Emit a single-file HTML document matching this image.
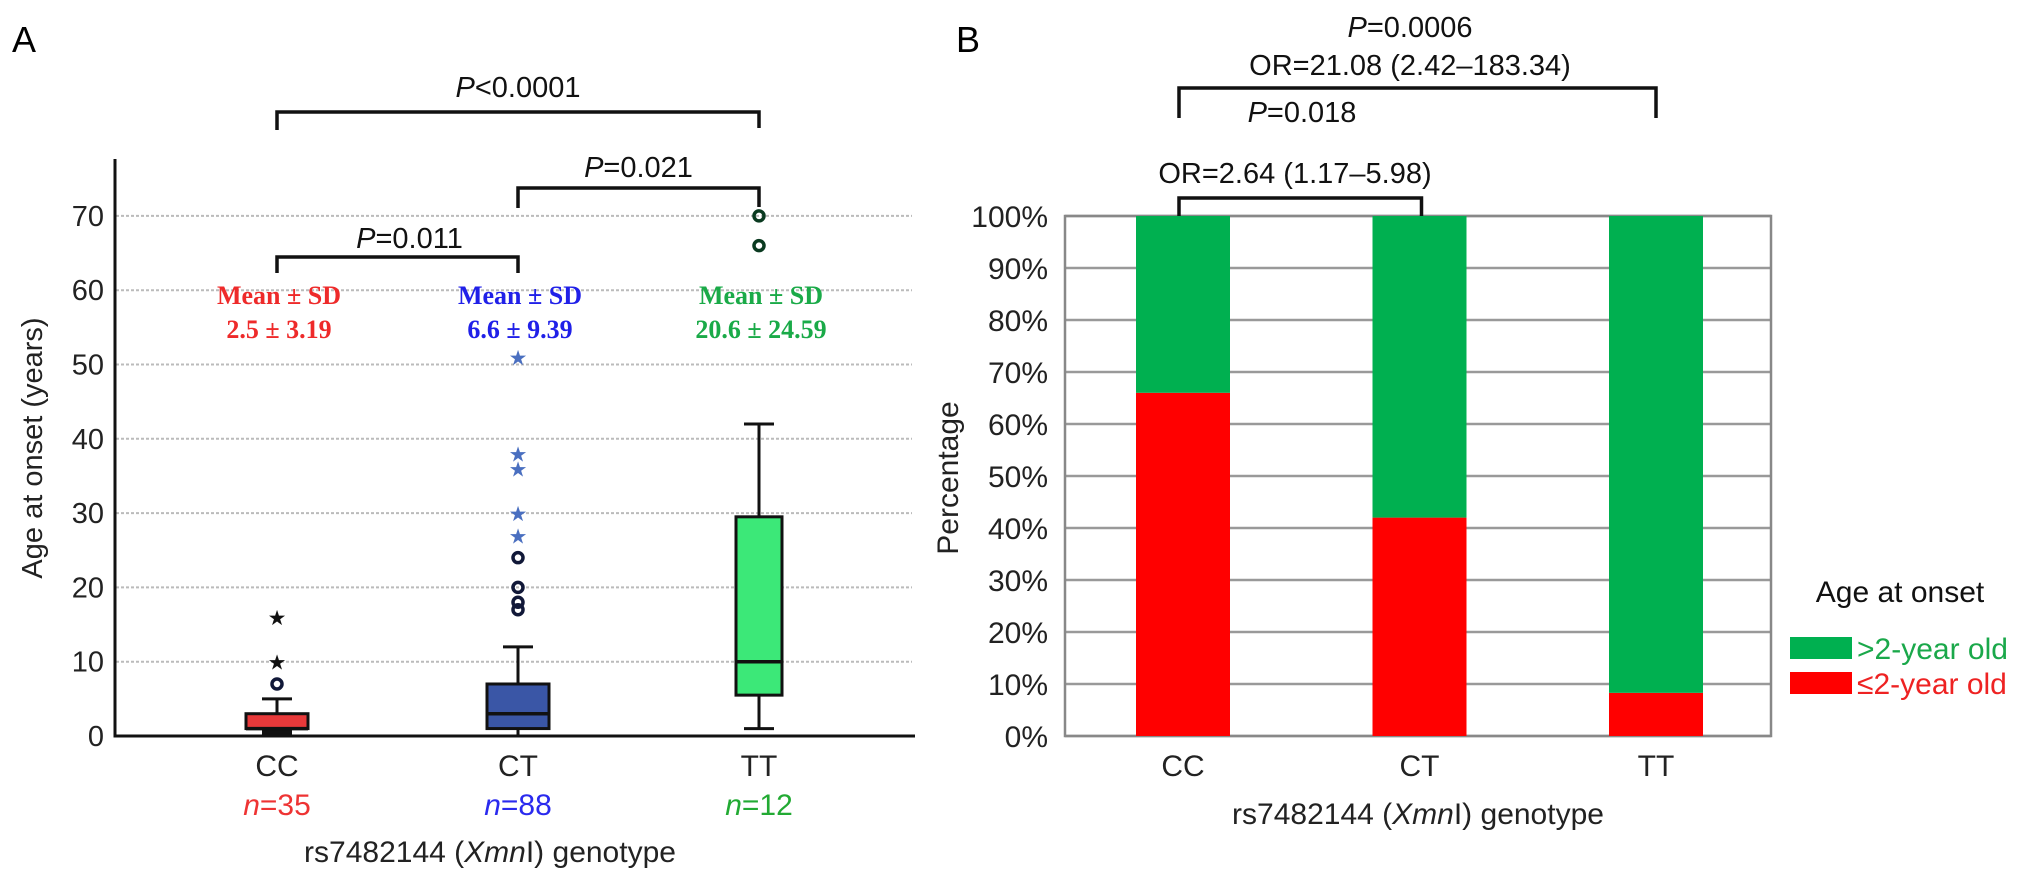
<!DOCTYPE html>
<html><head><meta charset="utf-8"><style>
html,body{margin:0;padding:0;background:#fff;}
svg{display:block;font-family:"Liberation Sans",sans-serif;}
.mean{font-family:"Liberation Serif",serif;font-weight:bold;font-size:26px;}
</style></head><body>
<svg id="fig" width="2032" height="879" viewBox="0 0 2032 879" xmlns="http://www.w3.org/2000/svg">
<g id="A"></g>
<g id="B"></g>
</svg>
<script>
// ---- Panel A data ----
const catsA = ['CC','CT','TT'];
const minsA = [0, 0, 1];
const q1A = [1, 1, 5.5];
const medA = [1, 3, 10];
const q3A = [3, 7, 29.5];
const maxA = [5, 12, 42];
const circlesA = [[7],[17,18,20,24],[66,70]];
const starsA = [[10,16],[27,30,36,38,51],[]];
const nA = [35, 88, 12];
const meansA = ['2.5 ± 3.19','6.6 ± 9.39','20.6 ± 24.59'];
const ticksA = [0,10,20,30,40,50,60,70];
// ---- Panel B data ----
const catsB = ['CC','CT','TT'];
const lowPct = [66, 42, 8.3];
const highPct = [34, 58, 91.7];
const ticksB = [0,10,20,30,40,50,60,70,80,90,100];

const NS='http://www.w3.org/2000/svg';
function mk(parent, tag, attrs, text){
  const e=document.createElementNS(NS,tag);
  for(const k in attrs) e.setAttribute(k,attrs[k]);
  if(text!==undefined) e.textContent=text;
  parent.appendChild(e); return e;
}
const colA=['#e8393a','#3a56a6','#3ce878'];
const txtCol=['#ee2a2a','#2020e8','#1aaa48'];
const nCol=['#ee3333','#2a2aee','#22aa33'];
const yA=v=>736-v*7.43;
const xA=i=>277+i*241;
const A=document.getElementById('A');

let t=mk(A,'text',{x:12,y:52,'font-size':36});t.textContent='A';


ticksA.forEach(v=>{
  if(v>0){const g=mk(A,'line',{x1:116,x2:912,y1:yA(v),y2:yA(v),stroke:'#bbb','stroke-width':2,'stroke-dasharray':'3,2'});
  
  }
  const l=mk(A,'text',{x:104,y:yA(v)+10,'font-size':29,'text-anchor':'end',fill:'#222'},String(v));
  
  
});
let ax=mk(A,'path',{d:'M115 159 V736 H915',stroke:'#111','stroke-width':3,fill:'none'});


let yt=mk(A,'text',{x:0,y:0,'font-size':29,'text-anchor':'middle',transform:'translate(42,448) rotate(-90)',fill:'#222'},'Age at onset (years)');



catsA.forEach((c,i)=>{
  const x=xA(i), w=(i===2?46:62), cw=30;
  const g=mk(A,'g',{});
  
  
  mk(g,'line',{x1:x,x2:x,y1:yA(maxA[i]),y2:yA(q3A[i]),stroke:'#111','stroke-width':3});
  mk(g,'line',{x1:x,x2:x,y1:yA(minsA[i]),y2:yA(q1A[i]),stroke:'#111','stroke-width':3});
  mk(g,'line',{x1:x-cw/2,x2:x+cw/2,y1:yA(maxA[i]),y2:yA(maxA[i]),stroke:'#111','stroke-width':3});
  mk(g,'line',{x1:x-cw/2,x2:x+cw/2,y1:yA(minsA[i]),y2:yA(minsA[i]),stroke:'#111','stroke-width':3});
  if(q1A[i]-minsA[i]<=1 && medA[i]===q1A[i]){
    mk(g,'rect',{x:x-cw/2,y:yA(q1A[i]),width:cw,height:yA(minsA[i])-yA(q1A[i]),fill:'#111'});
  }
  mk(g,'rect',{x:x-w/2,y:yA(q3A[i]),width:w,height:yA(q1A[i])-yA(q3A[i]),fill:colA[i],stroke:'#111','stroke-width':3});
  mk(g,'line',{x1:x-w/2,x2:x+w/2,y1:yA(medA[i]),y2:yA(medA[i]),stroke:'#111','stroke-width':3.5});
  circlesA[i].forEach(v=>{
    const o=mk(A,'circle',{cx:x,cy:yA(v),r:5,fill:'none',stroke:i===2?'#0a3a20':'#111838','stroke-width':3.5});
    
    
  });
  starsA[i].forEach(v=>{
    const s=mk(A,'text',{x:x,y:yA(v)+8,'font-size':21,'text-anchor':'middle',fill:i===0?'#111':'#4a6fc0'},'★');
    
    
  });
  const m1=mk(A,'text',{x:x+2,y:304,'text-anchor':'middle',fill:txtCol[i],class:'mean'},'Mean ± SD');
  
  
  const m2=mk(A,'text',{x:x+2,y:338,'text-anchor':'middle',fill:txtCol[i],class:'mean'},meansA[i]);
  
  
  const cl=mk(A,'text',{x:x,y:776,'font-size':30,'text-anchor':'middle',fill:'#222'},c);
  
  
  const nl=mk(A,'text',{x:x,y:815,'font-size':30,'text-anchor':'middle',fill:nCol[i]});
  nl.innerHTML='<tspan font-style="italic">n</tspan>='+nA[i];
  
  
});
let xt=mk(A,'text',{x:490,y:862,'font-size':30,'text-anchor':'middle',fill:'#222'});
xt.innerHTML='rs7482144 (<tspan font-style="italic">Xmn</tspan>I) genotype';



function bracket(P,x1,x2,top,l1,l2,name){
  const b=mk(P,'path',{d:`M${x1} ${l1} V${top} H${x2} V${l2}`,stroke:'#111','stroke-width':3.5,fill:'none'});
  
  
}
function ptext(P,x,y,rest,name,size){
  const e=mk(P,'text',{x:x,y:y,'font-size':size||29,'text-anchor':'middle',fill:'#111'});
  e.innerHTML='<tspan font-style="italic">P</tspan>'+rest;
  
  
}
bracket(A,xA(0),xA(1),257,273,273,'bracket-cc-ct');
ptext(A,(xA(0)+xA(1))/2+12,248,'=0.011','p-value-cc-ct');
bracket(A,xA(1),xA(2),188,208,207,'bracket-ct-tt');
ptext(A,(xA(1)+xA(2))/2,177,'=0.021','p-value-ct-tt');
bracket(A,xA(0),xA(2),112,130,128,'bracket-cc-tt');
ptext(A,(xA(0)+xA(2))/2,97,'&lt;0.0001','p-value-cc-tt');

// ---- Panel B ----
const B=document.getElementById('B');
const yB=p=>736-p*5.2;
const xB=i=>1183+i*236.5;
t=mk(B,'text',{x:956,y:52,'font-size':36},'B');


ticksB.forEach(v=>{
  const g=mk(B,'line',{x1:1065,x2:1771,y1:yB(v),y2:yB(v),stroke:'#999','stroke-width':2.5});
  
  
  const l=mk(B,'text',{x:1048,y:yB(v)+11,'font-size':30,'text-anchor':'end',fill:'#222'},v+'%');
  
  
});
let fr=mk(B,'rect',{x:1065,y:yB(100),width:706,height:520,fill:'none',stroke:'#888','stroke-width':2.5});


catsB.forEach((c,i)=>{
  const x=xB(i), w=94;
  const r=mk(B,'rect',{x:x-w/2,y:yB(lowPct[i]),width:w,height:yB(0)-yB(lowPct[i]),fill:'#ff0000'});
  
  
  const gr=mk(B,'rect',{x:x-w/2,y:yB(lowPct[i]+highPct[i]),width:w,height:yB(lowPct[i])-yB(lowPct[i]+highPct[i]),fill:'#00b050'});
  
  
  const l=mk(B,'text',{x:x,y:776,'font-size':30,'text-anchor':'middle',fill:'#222'},c);
  
  
});
let bt=mk(B,'text',{x:1418,y:824,'font-size':30,'text-anchor':'middle',fill:'#222'});
bt.innerHTML='rs7482144 (<tspan font-style="italic">Xmn</tspan>I) genotype';


let pt=mk(B,'text',{x:0,y:0,'font-size':30,'text-anchor':'middle',transform:'translate(958,478) rotate(-90)',fill:'#222'},'Percentage');



bracket(B,xB(0)-4,xB(1)+2,198,216,216,'bracket-b-cc-ct');
let o1=mk(B,'text',{x:1295,y:183,'font-size':29,'text-anchor':'middle',fill:'#111'},'OR=2.64 (1.17–5.98)');


ptext(B,1302,122,'=0.018','p-value-b-cc-ct');
bracket(B,xB(0)-4,xB(2),88,118,118,'bracket-b-cc-tt');
ptext(B,1410,37,'=0.0006','p-value-b-cc-tt');
let o2=mk(B,'text',{x:1410,y:75,'font-size':29,'text-anchor':'middle',fill:'#111'},'OR=21.08 (2.42–183.34)');



// legend
const lg=mk(B,'g',{});


mk(lg,'text',{x:1900,y:602,'font-size':30,'text-anchor':'middle',fill:'#111'},'Age at onset');
const e1=mk(lg,'g',{});


mk(e1,'rect',{x:1790,y:637,width:62,height:22,fill:'#00b050'});
mk(e1,'text',{x:1857,y:659,'font-size':30,fill:'#1aa84a'},'>2-year old');
const e2=mk(lg,'g',{});


mk(e2,'rect',{x:1790,y:672,width:62,height:22,fill:'#ff0000'});
mk(e2,'text',{x:1857,y:694,'font-size':30,fill:'#ee2222'},'≤2-year old');
</script>
</body></html>
